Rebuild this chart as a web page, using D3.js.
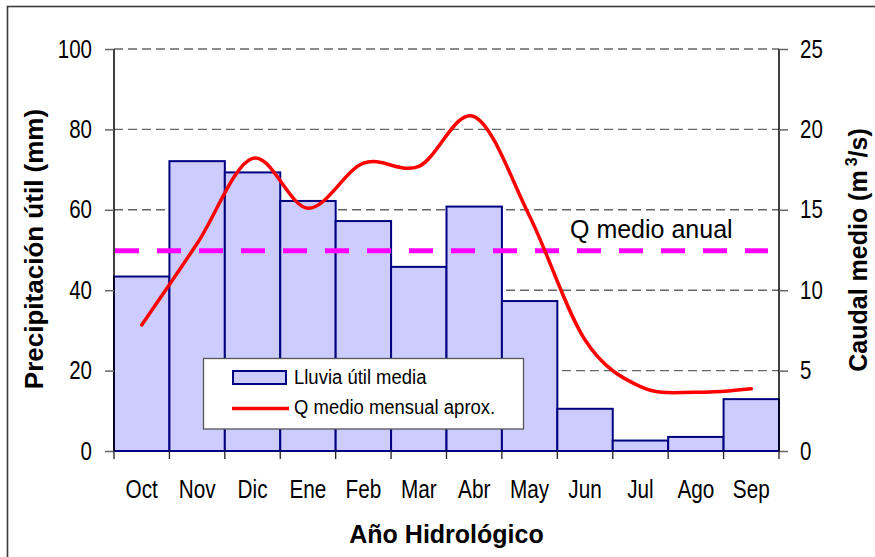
<!DOCTYPE html>
<html>
<head>
<meta charset="utf-8">
<script src="https://cdn.jsdelivr.net/npm/d3@7"></script>
<style>
  html, body { margin: 0; padding: 0; background: #fff; }
  svg { display: block; font-family: "Liberation Sans", Arial, sans-serif; }
</style>
</head>
<body>
<svg id="chart" width="875" height="557"></svg>
<script>
// Monthly hydrological year data
const months = ["Oct", "Nov", "Dic", "Ene", "Feb", "Mar", "Abr", "May", "Jun", "Jul", "Ago", "Sep"];
// Useful rainfall (mm), left axis
const lluviaUtil = [43.4, 72.1, 69.3, 62.2, 57.2, 45.8, 60.8, 37.3, 10.5, 2.6, 3.5, 12.9];
// Approximate mean monthly discharge (m3/s), right axis
const caudalMensual = [7.84, 12.9, 18.2, 15.1, 17.9, 17.7, 20.8, 14.6, 6.9, 4.0, 3.65, 3.87];
// Mean annual discharge (m3/s)
const caudalAnual = 12.45;
const leftTicks = [0, 20, 40, 60, 80, 100];
const rightTicks = [0, 5, 10, 15, 20, 25];

const svg = d3.select("#chart");
const m = { left: 114, right: 779, top: 49, bottom: 451 };

const x = d3.scaleBand().domain(months).range([m.left, m.right]).paddingInner(0).paddingOuter(0);
const yL = d3.scaleLinear().domain([0, 100]).range([m.bottom, m.top]);
const yR = d3.scaleLinear().domain([0, 25]).range([m.bottom, m.top]);

// Outer frame
svg.append("rect")
  .attr("x", 7.5).attr("y", 6.5).attr("width", 900).attr("height", 600)
  .attr("fill", "none").attr("stroke", "#3a3a3a").attr("stroke-width", 1.6);

// Horizontal gridlines (behind the bars)
svg.append("g").selectAll("line")
  .data(leftTicks.filter(t => t > 0))
  .join("line")
  .attr("x1", m.left).attr("x2", m.right)
  .attr("y1", d => yL(d)).attr("y2", d => yL(d))
  .attr("stroke", "#666").attr("stroke-width", 1.4)
  .attr("stroke-dasharray", "9,5");

// Rainfall bars
svg.append("g").selectAll("rect")
  .data(months.map((mo, i) => ({ mo, v: lluviaUtil[i] })))
  .join("rect")
  .attr("x", d => x(d.mo))
  .attr("y", d => yL(d.v))
  .attr("width", x.bandwidth())
  .attr("height", d => yL(0) - yL(d.v))
  .attr("fill", "#ccccff")
  .attr("stroke", "#000080")
  .attr("stroke-width", 2);

// Baseline
svg.append("line")
  .attr("x1", m.left).attr("x2", m.right)
  .attr("y1", yL(0)).attr("y2", yL(0))
  .attr("stroke", "#000080").attr("stroke-width", 2);

// Condense tick label glyphs horizontally
function condense(sel, sx, axis) {
  sel.selectAll("text").each(function () {
    const t = d3.select(this);
    if (axis === "y") {
      const tx = +t.attr("x");
      t.attr("x", 0).attr("transform", `translate(${tx},0) scale(${sx},1)`);
    } else {
      const ty = +t.attr("y");
      t.attr("y", 0).attr("transform", `translate(0,${ty}) scale(${sx},1)`);
    }
  });
}

// Left axis
const gL = svg.append("g").attr("transform", `translate(${m.left},0)`)
  .call(d3.axisLeft(yL).tickValues(leftTicks).tickSize(9).tickPadding(13));
gL.select(".domain").attr("stroke", "#000").attr("stroke-width", 1.5).attr("d", `M0,${m.top}V${m.bottom}`);
gL.selectAll(".tick line").attr("stroke", "#666").attr("stroke-width", 1.5);
gL.selectAll("text").attr("font-size", 25).attr("fill", "#000").attr("font-family", "Liberation Sans, Arial, sans-serif");
condense(gL, 0.82, "y");

// Right axis
const gR = svg.append("g").attr("transform", `translate(${m.right},0)`)
  .call(d3.axisRight(yR).tickValues(rightTicks).tickSize(9).tickPadding(12));
gR.select(".domain").attr("stroke", "#000").attr("stroke-width", 1.5).attr("d", `M0,${m.top}V${m.bottom}`);
gR.selectAll(".tick line").attr("stroke", "#666").attr("stroke-width", 1.5);
gR.selectAll("text").attr("font-size", 25).attr("fill", "#000").attr("font-family", "Liberation Sans, Arial, sans-serif");
condense(gR, 0.82, "y");

// Bottom axis: labels at band centres
const gB = svg.append("g").attr("transform", `translate(0,${m.bottom})`)
  .call(d3.axisBottom(x).tickSize(0).tickPadding(29));
gB.select(".domain").remove();
gB.selectAll("text").attr("font-size", 25).attr("fill", "#000").attr("font-family", "Liberation Sans, Arial, sans-serif");
condense(gB, 0.83, "x");

// Category boundary ticks
svg.append("g").selectAll("line")
  .data(d3.range(months.length + 1))
  .join("line")
  .attr("x1", i => x.range()[0] + i * x.step())
  .attr("x2", i => x.range()[0] + i * x.step())
  .attr("y1", m.bottom).attr("y2", m.bottom + 8)
  .attr("stroke", "#222").attr("stroke-width", 1.3);

// Mean annual discharge (dashed)
svg.append("line")
  .attr("x1", m.left + 1).attr("x2", m.right - 11)
  .attr("y1", yR(caudalAnual)).attr("y2", yR(caudalAnual))
  .attr("stroke", "#ff00ff").attr("stroke-width", 5)
  .attr("stroke-dasharray", "24,18");

svg.append("text")
  .attr("x", 570).attr("y", 238)
  .attr("font-size", 25).attr("fill", "#000")
  .text("Q medio anual");

// Mean monthly discharge curve
const line = d3.line()
  .x((d, i) => x(months[i]) + x.bandwidth() / 2)
  .y(d => yR(d))
  .curve(d3.curveCardinal.tension(0));
svg.append("path")
  .datum(caudalMensual)
  .attr("d", line)
  .attr("fill", "none")
  .attr("stroke", "#ff0000")
  .attr("stroke-width", 3.5)
  .attr("stroke-linejoin", "round")
  .attr("stroke-linecap", "round");

// Axis titles
svg.append("text")
  .attr("transform", "translate(43,249) rotate(-90)")
  .attr("text-anchor", "middle")
  .attr("font-size", 26).attr("font-weight", "bold")
  .text("Precipitación útil (mm)");

const tR = svg.append("text")
  .attr("transform", "translate(867,250) rotate(-90)")
  .attr("text-anchor", "middle")
  .attr("font-size", 25).attr("font-weight", "bold");
tR.append("tspan").text("Caudal medio (m");
tR.append("tspan").attr("dx", 4).attr("dy", -10).attr("font-size", 16).text("3");
tR.append("tspan").attr("dy", 10).text("/s)");

svg.append("text")
  .attr("x", (m.left + m.right) / 2).attr("y", 543)
  .attr("text-anchor", "middle")
  .attr("font-size", 25).attr("font-weight", "bold")
  .text("Año Hidrológico");

// Legend
const lg = svg.append("g");
lg.append("rect")
  .attr("x", 203.5).attr("y", 358.5).attr("width", 320).attr("height", 70.5)
  .attr("fill", "#fff").attr("stroke", "#555").attr("stroke-width", 1.3);
lg.append("rect")
  .attr("x", 233).attr("y", 371).attr("width", 53).attr("height", 13)
  .attr("fill", "#ccccff").attr("stroke", "#000080").attr("stroke-width", 2);
lg.append("line")
  .attr("x1", 232).attr("x2", 289).attr("y1", 408.5).attr("y2", 408.5)
  .attr("stroke", "#ff0000").attr("stroke-width", 3.5);
const legendLabels = ["Lluvia útil media", "Q medio mensual aprox."];
lg.selectAll("text.lbl")
  .data(legendLabels)
  .join("text")
  .attr("class", "lbl")
  .attr("transform", (d, i) => `translate(294,${i === 0 ? 384 : 414}) scale(0.88,1)`)
  .attr("font-size", 21).attr("fill", "#000")
  .text(d => d);
</script>
</body>
</html>
